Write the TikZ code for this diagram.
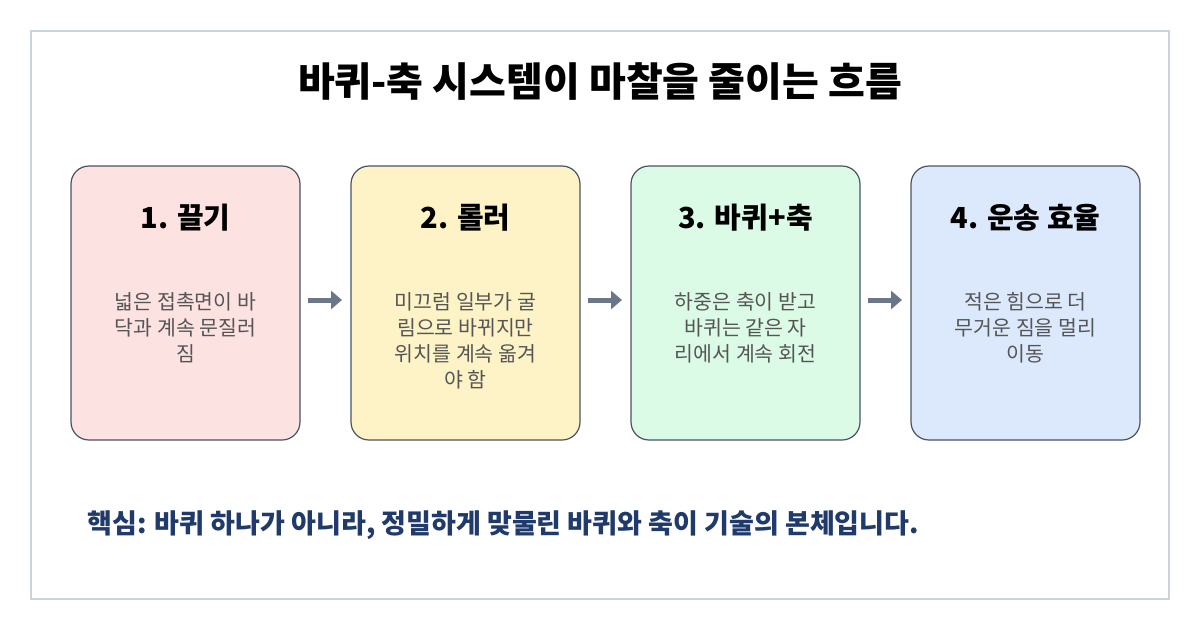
\documentclass[tikz,border=0pt]{standalone}
\usepackage{fontspec}
\newfontfamily\cjk{Noto Sans CJK KR}
\usetikzlibrary{positioning,arrows.meta}
\definecolor{framecol}{HTML}{CBD2DC}
\definecolor{edgecol}{HTML}{4A5360}
\definecolor{arrowcol}{HTML}{6B7687}
\definecolor{textcol}{HTML}{555555}
\definecolor{notecol}{HTML}{1F3A6B}
\definecolor{pinkfill}{HTML}{FDE2E2}
\definecolor{yellowfill}{HTML}{FDF3C7}
\definecolor{greenfill}{HTML}{DCFBE6}
\definecolor{bluefill}{HTML}{DCE9FD}
\tikzset{
  stage/.style={draw=edgecol, line width=1.2pt, rounded corners=18pt,
    minimum width=229pt, minimum height=274pt, inner sep=0pt},
  head/.style={font=\cjk\bfseries\fontsize{29}{32}\selectfont, text=black},
  body/.style={font=\cjk\fontsize{20.5}{26}\selectfont, text=textcol, align=center},
  flowarrow/.style={draw=arrowcol, line width=5pt, -{Triangle[length=11pt,width=18pt]}}
}
\begin{document}
\begin{tikzpicture}[x=1pt,y=-1pt]
  \useasboundingbox (0,0) rectangle (1200,630);
  \fill[white] (0,0) rectangle (1200,630);
  \draw[framecol, line width=2pt] (31,31) rectangle (1169,599);
  \node[font=\cjk\bfseries\fontsize{40}{44}\selectfont] (title) at (600,82) {바퀴-축 시스템이 마찰을 줄이는 흐름};
  % stages
  \node[stage, fill=pinkfill] (s1) at (185.5,303) {};
  \node[stage, fill=yellowfill] (s2) at (465.5,303) {};
  \node[stage, fill=greenfill] (s3) at (745.5,303) {};
  \node[stage, fill=bluefill] (s4) at (1025.5,303) {};
  \node[head] (h1) at (185.5,218) {1. 끌기};
  \node[head] (h2) at (465.5,218) {2. 롤러};
  \node[head] (h3) at (745.5,218) {3. 바퀴+축};
  \node[head] (h4) at (1025.5,218) {4. 운송 효율};
  \node[body] (b1) at (185.5,328) {넓은 접촉면이 바\\닥과 계속 문질러\\짐};
  \node[body] (b2) at (465.5,341) {미끄럼 일부가 굴\\림으로 바뀌지만\\위치를 계속 옮겨\\야 함};
  \node[body] (b3) at (745.5,328) {하중은 축이 받고\\바퀴는 같은 자\\리에서 계속 회전};
  \node[body] (b4) at (1025.5,328) {적은 힘으로 더\\무거운 짐을 멀리\\이동};
  % arrows
  \coordinate (a1) at (308,300); \coordinate (e1) at (342,300);
  \coordinate (a2) at (588,300); \coordinate (e2) at (622,300);
  \coordinate (a3) at (868,300); \coordinate (e3) at (902,300);
  \draw[flowarrow] (a1) -- (e1);
  \draw[flowarrow] (a2) -- (e2);
  \draw[flowarrow] (a3) -- (e3);
  \node[anchor=west, font=\cjk\bfseries\fontsize{27}{30}\selectfont, text=notecol] (note) at (84,525) {핵심: 바퀴 하나가 아니라, 정밀하게 맞물린 바퀴와 축이 기술의 본체입니다.};
\end{tikzpicture}
\end{document}
